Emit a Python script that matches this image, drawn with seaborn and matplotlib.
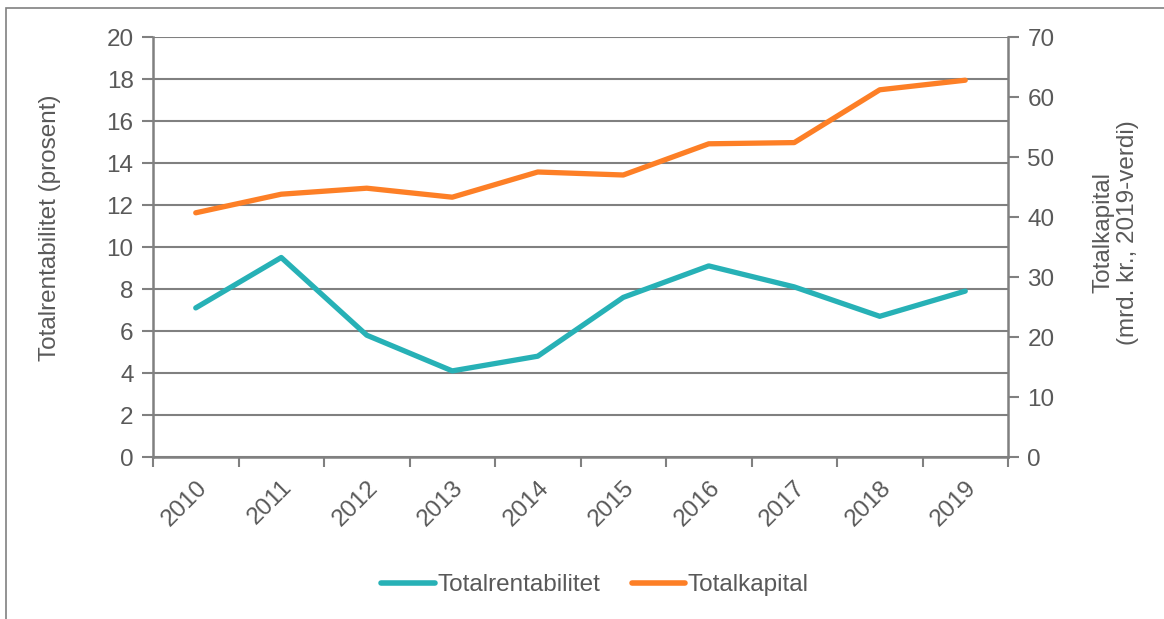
import matplotlib
matplotlib.use("Agg")
import matplotlib.pyplot as plt
import seaborn as sns
import pandas as pd
import numpy as np
from matplotlib.patches import Rectangle
from matplotlib.lines import Line2D

years = ["2010", "2011", "2012", "2013", "2014", "2015", "2016", "2017", "2018", "2019"]
totalrentabilitet = [7.1, 9.5, 5.8, 4.1, 4.8, 7.6, 9.1, 8.1, 6.7, 7.9]
totalkapital = [40.7, 43.8, 44.8, 43.3, 47.5, 47.0, 52.2, 52.4, 61.2, 62.8]

sns.set_theme(style="white")
plt.rcParams['font.family'] = ['Liberation Sans', 'DejaVu Sans']

GRAY = "#808080"
TXT = "#595959"
TEAL = "#27B1B6"
ORANGE = "#FD7F26"
FS = 17.5

df = pd.DataFrame({"x": np.arange(len(years)), "r": totalrentabilitet, "k": totalkapital})

fig = plt.figure(figsize=(11.64, 6.19), dpi=100)
ax = fig.add_axes([153/1164, 1-457/619, (1008-153)/1164, 420/619])
ax2 = ax.twinx()

sns.lineplot(data=df, x="x", y="r", ax=ax, color=TEAL, lw=3.8, solid_capstyle="round", legend=False)
sns.lineplot(data=df, x="x", y="k", ax=ax2, color=ORANGE, lw=3.8, solid_capstyle="round", legend=False)

ax.set_xlim(-0.5, len(years) - 0.5)
ax.set_ylim(0, 20)
ax2.set_ylim(0, 70)
ax.set_yticks(np.arange(0, 21, 2))
ax2.set_yticks(np.arange(0, 71, 10))
ax.yaxis.grid(True, color=GRAY, lw=1.5)
ax.set_axisbelow(True)

ax.set_xticks(np.arange(-0.5, len(years), 1.0), minor=True)
ax.set_xticks(np.arange(len(years)))
ax.set_xticklabels(years, rotation=45, ha="right", rotation_mode="anchor")
ax.tick_params(axis="x", which="major", length=0, pad=14, labelsize=FS, labelcolor=TXT)
ax.tick_params(axis="x", which="minor", length=7, width=1.5, color=GRAY, direction="out", bottom=True)
ax.tick_params(axis="y", length=8, width=1.5, color=GRAY, labelsize=FS, labelcolor=TXT, left=True, pad=6)
ax2.tick_params(axis="y", length=8, width=1.5, color=GRAY, labelsize=FS, labelcolor=TXT, right=True, pad=6)

for a in (ax, ax2):
    a.spines["top"].set_visible(False)
    for s in ["left", "right", "bottom"]:
        a.spines[s].set_color(GRAY)
        a.spines[s].set_linewidth(1.8)
ax.spines["right"].set_visible(False)
ax2.spines["left"].set_visible(False)
ax2.spines["bottom"].set_visible(False)

ax.set_xlabel("")
ax.set_ylabel("Totalrentabilitet (prosent)", fontsize=FS, color=TXT)
ax.yaxis.set_label_coords(-92/855, 0.545)
ax2.set_ylabel("Totalkapital\n(mrd. kr., 2019-verdi)", fontsize=FS, color=TXT, linespacing=1.1)
ax2.yaxis.set_label_coords(1 + 85/855, 0.535)

handles = [Line2D([0], [0], color=TEAL, lw=4, solid_capstyle="round"),
           Line2D([0], [0], color=ORANGE, lw=4, solid_capstyle="round")]
leg = fig.legend(handles, ["Totalrentabilitet", "Totalkapital"], loc="center",
                 bbox_to_anchor=(595/1164, 1-585/619), ncol=2, frameon=False,
                 fontsize=FS, handlelength=2.2, handletextpad=0.1, columnspacing=1.3)
for t in leg.get_texts():
    t.set_color(TXT)

fig.patches.append(Rectangle((6/1164, -0.1), 1.2, 1 - 8/619 + 0.1, transform=fig.transFigure,
                             fill=False, edgecolor=GRAY, lw=1.2))

fig.savefig("out.png", dpi=100)
